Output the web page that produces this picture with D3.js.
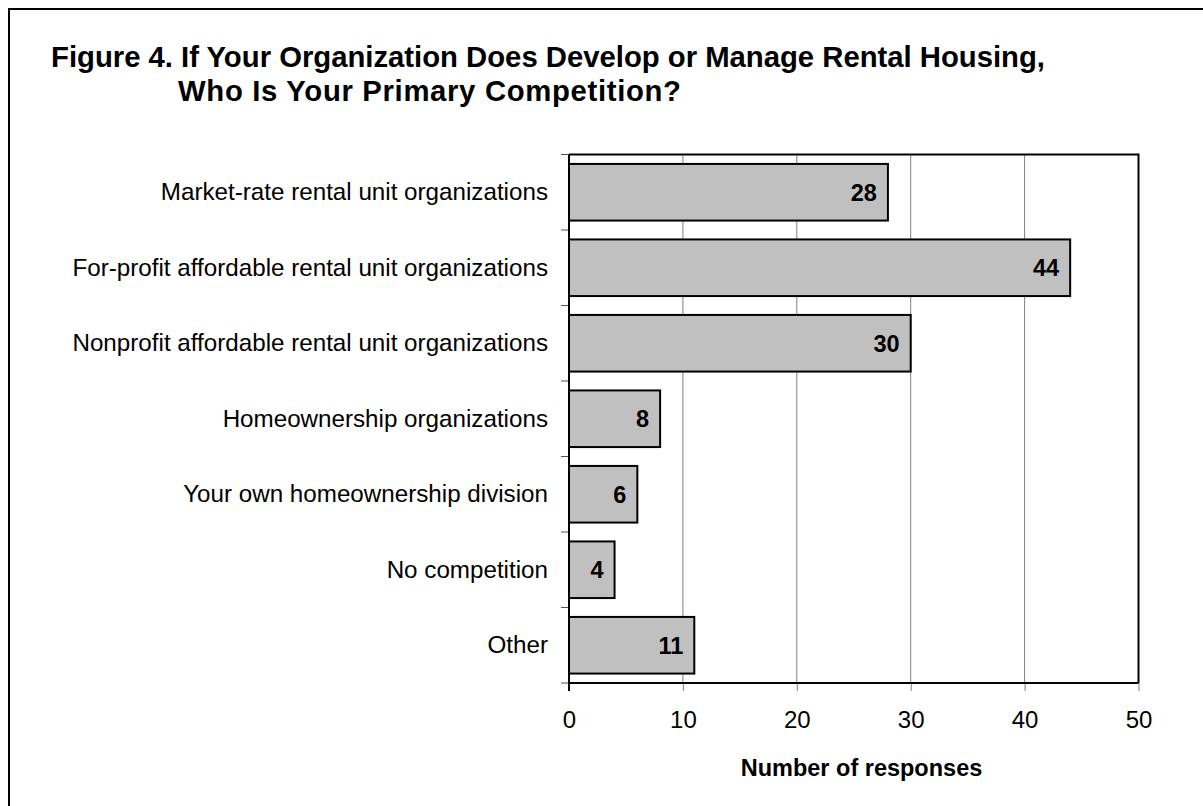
<!DOCTYPE html>
<html>
<head>
<meta charset="utf-8">
<script src="https://cdn.jsdelivr.net/npm/d3@7"></script>
<style>
  html, body { margin: 0; padding: 0; background: #fff; }
  svg { display: block; font-family: Arial, "Liberation Sans", sans-serif; }
</style>
</head>
<body>
<svg id="chart" width="1203" height="806"></svg>
<script>
// Survey responses: primary competition for rental housing developers/managers
const categories = [
  "Market-rate rental unit organizations",
  "For-profit affordable rental unit organizations",
  "Nonprofit affordable rental unit organizations",
  "Homeownership organizations",
  "Your own homeownership division",
  "No competition",
  "Other"
];
const responses = [28, 44, 30, 8, 6, 4, 11];
const xTicks = [0, 10, 20, 30, 40, 50];
const titleLines = [
  "Figure 4. If Your Organization Does Develop or Manage Rental Housing,",
  "Who Is Your Primary Competition?"
];
const xAxisTitle = "Number of responses";

const svg = d3.select("#chart");
const plot = { left: 569, right: 1138.5, top: 154.5, bottom: 683 };

// Frame (left and top edges)
svg.append("path")
  .attr("d", "M9,806 L9,9 L1203,9")
  .attr("fill", "none").attr("stroke", "#000").attr("stroke-width", 2);

// Title, two lines, second line indented
svg.append("text").attr("x", 51).attr("y", 66.5)
  .attr("font-size", 29.3).attr("font-weight", "bold")
  .attr("textLength", 994).attr("lengthAdjust", "spacing")
  .text(titleLines[0]);
svg.append("text").attr("x", 178).attr("y", 101)
  .attr("font-size", 29.3).attr("font-weight", "bold")
  .attr("textLength", 503).attr("lengthAdjust", "spacing")
  .text(titleLines[1]);

const x = d3.scaleLinear().domain([0, 50]).range([plot.left, plot.right]);
const y = d3.scaleBand().domain(categories).range([plot.top, plot.bottom])
  .paddingInner(0.25).paddingOuter(0.125);

// Vertical gridlines
svg.append("g").selectAll("line").data(xTicks.slice(1, -1)).join("line")
  .attr("x1", d => x(d)).attr("x2", d => x(d))
  .attr("y1", plot.top).attr("y2", plot.bottom)
  .attr("stroke", "#808080").attr("stroke-width", 1);

// Bottom axis ticks and labels
const xAxis = svg.append("g").attr("transform", `translate(0,${plot.bottom})`)
  .call(d3.axisBottom(x).tickValues(xTicks).tickSize(8).tickPadding(20));
xAxis.select(".domain").remove();
xAxis.selectAll(".tick line").attr("stroke", "#808080").attr("stroke-width", 1);
xAxis.selectAll(".tick text").attr("font-size", 24).attr("fill", "#000")
  .attr("font-family", "Arial, 'Liberation Sans', sans-serif");

// Left axis: band boundary ticks
const boundaries = categories.map(c => y(c) - y.step() * y.paddingInner() / 2)
  .concat([plot.bottom]);
boundaries[0] = plot.top;
svg.append("g").selectAll("line").data(boundaries).join("line")
  .attr("x1", plot.left - 8).attr("x2", plot.left)
  .attr("y1", d => d).attr("y2", d => d)
  .attr("stroke", "#555").attr("stroke-width", 1);

// Category labels
svg.append("g").selectAll("text").data(categories).join("text")
  .attr("x", plot.left - 21)
  .attr("y", d => y(d) + y.bandwidth() / 2 + 8)
  .attr("text-anchor", "end").attr("font-size", 24.2)
  .text(d => d);

// Plot border (top and right)
svg.append("path")
  .attr("d", `M${plot.left},${plot.top} L${plot.right},${plot.top} L${plot.right},${plot.bottom}`)
  .attr("fill", "none").attr("stroke", "#000").attr("stroke-width", 2);

// Bars
const data = categories.map((c, i) => ({ c, v: responses[i] }));
svg.append("g").selectAll("rect").data(data).join("rect")
  .attr("x", x(0)).attr("y", d => y(d.c))
  .attr("width", d => x(d.v) - x(0)).attr("height", y.bandwidth())
  .attr("fill", "#c0c0c0").attr("stroke", "#000").attr("stroke-width", 2);

// Value labels
svg.append("g").selectAll("text").data(data).join("text")
  .attr("x", d => x(d.v) - 11)
  .attr("y", d => y(d.c) + y.bandwidth() / 2 + 8.5)
  .attr("text-anchor", "end").attr("font-size", 23.5).attr("font-weight", "bold")
  .text(d => d.v);

// Axis lines
svg.append("line")
  .attr("x1", plot.left).attr("x2", plot.left).attr("y1", plot.top).attr("y2", plot.bottom + 8)
  .attr("stroke", "#000").attr("stroke-width", 2);
svg.append("line")
  .attr("x1", plot.left).attr("x2", plot.right).attr("y1", plot.bottom).attr("y2", plot.bottom)
  .attr("stroke", "#000").attr("stroke-width", 2);

// Axis title
svg.append("text").attr("x", 861.5).attr("y", 776)
  .attr("text-anchor", "middle").attr("font-size", 23.5).attr("font-weight", "bold")
  .text(xAxisTitle);
</script>
</body>
</html>
